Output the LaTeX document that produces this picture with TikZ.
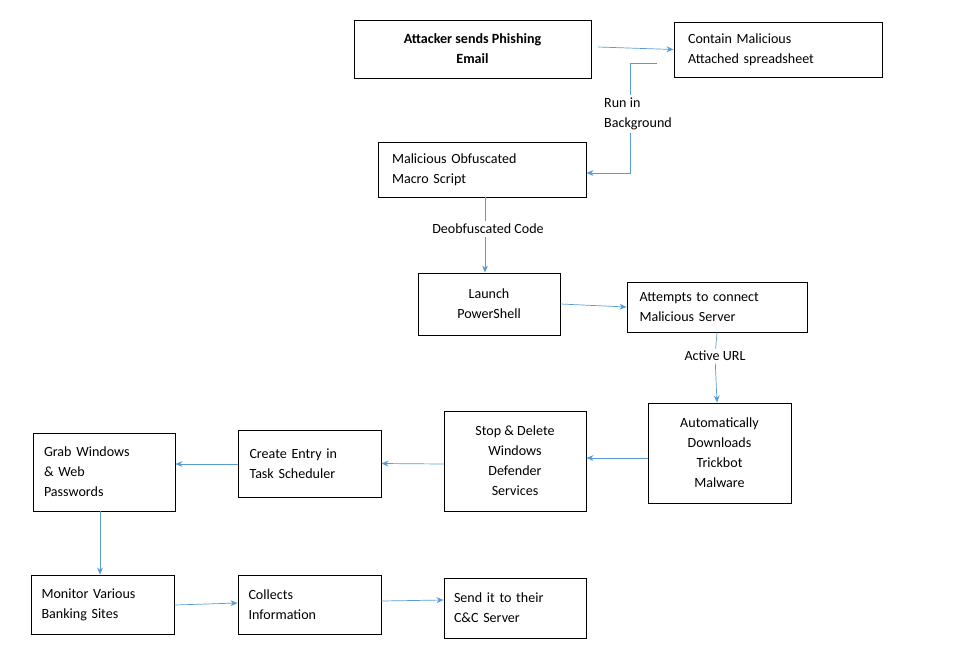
\documentclass[tikz,border=0pt]{standalone}
\usepackage{fontspec}
\setmainfont{Carlito}
\usetikzlibrary{arrows.meta}
\definecolor{arrowblue}{RGB}{91,155,213}
\begin{document}
\begin{tikzpicture}[x=0.03cm,y=-0.03cm,
  box/.style={draw, rectangle, line width=0.8pt, inner sep=0pt, font=\fontsize{12}{17}\selectfont},
  lbl/.style={font=\fontsize{12}{17}\selectfont, align=left, inner sep=2pt},
  link/.style={draw=arrowblue, line width=0.6pt},
  flow/.style={link, -{Stealth[length=6pt,width=5pt]}}]
  \useasboundingbox (0,0) rectangle (955,662);

  % Row 1
  \node[box, minimum width=237*0.03cm, minimum height=58*0.03cm, align=center, font=\fontsize{12}{17}\selectfont\bfseries] (phish) at (472.5,49) {Attacker sends Phishing\\Email};
  \node[box, minimum width=208*0.03cm, minimum height=55*0.03cm, align=left, text width=180*0.03cm] (attach) at (778,49.5) {Contain Malicious\\Attached spreadsheet};

  % Macro and PowerShell
  \node[box, minimum width=208*0.03cm, minimum height=55*0.03cm, align=left, text width=180*0.03cm] (macro) at (482,169.5) {Malicious Obfuscated\\Macro Script};
  \node[box, minimum width=142*0.03cm, minimum height=62*0.03cm, align=center] (shell) at (489,304) {Launch\\PowerShell};
  \node[box, minimum width=180*0.03cm, minimum height=50*0.03cm, align=left, text width=155*0.03cm] (server) at (717,307) {Attempts to connect\\Malicious Server};

  % Middle row
  \node[box, minimum width=143*0.03cm, minimum height=100*0.03cm, align=center] (download) at (719.5,453) {Automatically\\Downloads\\Trickbot\\Malware};
  \node[box, minimum width=142*0.03cm, minimum height=100*0.03cm, align=center] (defender) at (515,461) {Stop \& Delete\\Windows\\Defender\\Services};
  \node[box, minimum width=143*0.03cm, minimum height=67*0.03cm, align=left, text width=120*0.03cm] (task) at (309.5,463.5) {Create Entry in\\Task Scheduler};
  \node[box, minimum width=142*0.03cm, minimum height=78*0.03cm, align=left, text width=120*0.03cm] (grab) at (104,472) {Grab Windows\\\& Web\\Passwords};

  % Bottom row
  \node[box, minimum width=143*0.03cm, minimum height=59*0.03cm, align=left, text width=122*0.03cm] (bank) at (102.5,604.5) {Monitor Various\\Banking Sites};
  \node[box, minimum width=143*0.03cm, minimum height=59*0.03cm, align=left, text width=122*0.03cm] (collect) at (309.5,604.5) {Collects\\Information};
  \node[box, minimum width=142*0.03cm, minimum height=60*0.03cm, align=left, text width=122*0.03cm] (send) at (515,608) {Send it to their\\C\&C Server};

  % Labels
  \node[lbl] (bg) at (638,114) {Run in\\Background};
  \node[lbl] (deob) at (488,229) {Deobfuscated Code};
  \node[lbl] (url) at (715,356) {Active URL};
  \coordinate (bgtop) at (630,63);
  \coordinate (bgstart) at (657,63);
  \coordinate (bgturn) at (630,173);

  % Connections
  \draw[flow] (598,47) -- (attach.west);
  \draw[link] (bgstart) -- (bgtop) -- (bg.north -| bgtop);
  \draw[flow] (bg.south -| bgturn) -- (bgturn) -- (macro.east |- bgturn);
  \draw[link] (macro.south -| 485,0) -- (deob.north -| 485,0);
  \draw[flow] (deob.south -| 485,0) -- (shell.north -| 485,0);
  \draw[flow] (shell.east) -- (server.west);
  \draw[link] (server.south) -- (url);
  \draw[flow] (url) -- (download.north -| server.south);
  \draw[flow] (download.west |- 0,458) -- (defender.east |- 0,458);
  \draw[flow] (defender.west |- 0,464) -- (task.west -| task.east) ;
  \draw[flow] (task.west |- 0,464) -- (grab.east |- 0,464);
  \draw[flow] (grab.south -| 100,0) -- (bank.north -| 100,0);
  \draw[flow] (bank.east |- 0,605) -- (collect.west |- 0,603);
  \draw[flow] (collect.east |- 0,601) -- (send.west |- 0,600);
\end{tikzpicture}
\end{document}
